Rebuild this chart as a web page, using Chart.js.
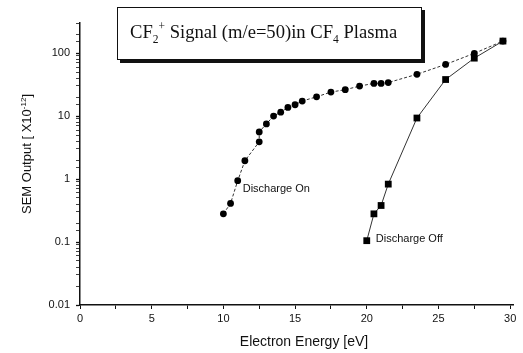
<!DOCTYPE html>
<html>
<head>
<meta charset="utf-8">
<script src="https://cdn.jsdelivr.net/npm/chart.js@4"></script>
<style>
    html, body { margin: 0; padding: 0; background: #fff; }
    #plot { display: block; }
</style>
</head>
<body>
<canvas id="plot" width="523" height="353"></canvas>
<script>
// --- Data: electron energy [eV] vs SEM output [x10^-12] ---
const onEnergy  = [10, 10.5, 11, 11.5, 12.5, 12.5, 13, 13.5, 14, 14.5, 15, 15.5, 16.5, 17.5, 18.5, 19.5, 20.5, 21, 21.5, 23.5, 25.5, 27.5, 29.5];
const onSignal  = [0.28, 0.41, 0.94, 1.95, 3.9, 5.6, 7.5, 10, 11.5, 13.7, 15.1, 17.3, 20.2, 24, 26.2, 29.9, 33, 33, 34, 46, 66, 99, 155];
const offEnergy = [20, 20.5, 21, 21.5, 23.5, 25.5, 27.5, 29.5];
const offSignal = [0.105, 0.28, 0.38, 0.83, 9.3, 38, 83, 155];

const xTickValues = [0, 2.5, 5, 7.5, 10, 12.5, 15, 17.5, 20, 22.5, 25, 27.5, 30];
const xTickLabels = ['0', '', '5', '', '10', '', '15', '', '20', '', '25', '', '30'];
const yTickValues = [0.01, 0.1, 1, 10, 100];
const yTickLabels = ['0.01', '0.1', '1', '10', '100'];

const seriesNames = ['Discharge On', 'Discharge Off'];

const INK = '#111';
const SANS = '"Liberation Sans", Arial, sans-serif';
const SERIF = '"Liberation Serif", "Times New Roman", serif';

function toPoints(xs, ys) {
    return xs.map((x, i) => ({ x: x, y: ys[i] }));
}

function majorIndex(v) {
    return yTickValues.findIndex(t => Math.abs(v - t) / t < 1e-6);
}

// draws a run of text pieces; each piece may be normal, sub or sup
function drawRich(ctx, pieces, x, y, size, family) {
    let cx = x;
    pieces.forEach(p => {
        const s = p.kind ? size * 0.62 : size;
        const dy = p.kind === 'sub' ? size * 0.28 : (p.kind === 'sup' ? -size * 0.42 : 0);
        ctx.font = `${s}px ${family}`;
        ctx.fillText(p.text, cx, y + dy);
        cx += ctx.measureText(p.text).width;
    });
    return cx - x;
}

const decorations = {
    id: 'decorations',
    afterDatasetsDraw(chart) {
        const ctx = chart.ctx;
        const xs = chart.scales.x;
        const ys = chart.scales.y;
        ctx.save();
        ctx.fillStyle = INK;
        ctx.textBaseline = 'middle';
        ctx.textAlign = 'left';

        // series labels beside the lowest points
        ctx.font = `11px ${SANS}`;
        ctx.fillText(seriesNames[0], xs.getPixelForValue(onEnergy[2]) + 5, ys.getPixelForValue(onSignal[2]) + 8.5);
        ctx.fillText(seriesNames[1], xs.getPixelForValue(offEnergy[0]) + 9, ys.getPixelForValue(offSignal[0]) - 1.5);

        // boxed title with drop shadow
        ctx.strokeStyle = INK;
        ctx.lineWidth = 1;
        ctx.strokeRect(117.5, 7.5, 304, 52);
        ctx.fillRect(422, 10, 3, 53);
        ctx.fillRect(120, 60, 305, 3);
        ctx.textBaseline = 'alphabetic';
        drawRich(ctx, [
            { text: 'CF' }, { text: '2', kind: 'sub' }, { text: '+', kind: 'sup' },
            { text: ' Signal (m/e=50)in CF' }, { text: '4', kind: 'sub' }, { text: ' Plasma' }
        ], 130, 38, 18.6, SERIF);

        // axis titles
        ctx.font = `14px ${SANS}`;
        ctx.textAlign = 'center';
        ctx.fillText('Electron Energy [eV]', 304, 346);

        ctx.translate(31, 154);
        ctx.rotate(-Math.PI / 2);
        ctx.textAlign = 'left';
        const yTitle = [{ text: 'SEM Output [ X10' }, { text: '-12', kind: 'sup' }, { text: ']' }];
        ctx.globalAlpha = 0;
        const w = drawRich(ctx, yTitle, 0, 0, 13, SANS);
        ctx.globalAlpha = 1;
        drawRich(ctx, yTitle, -w / 2, 0, 13, SANS);
        ctx.restore();
    }
};

new Chart(document.getElementById('plot'), {
    type: 'scatter',
    data: {
        datasets: [{
            label: seriesNames[0],
            data: toPoints(onEnergy, onSignal),
            showLine: true,
            borderColor: '#333',
            borderWidth: 1,
            borderDash: [3, 2],
            pointStyle: 'circle',
            pointRadius: 3.4,
            pointBackgroundColor: '#000',
            pointBorderWidth: 0
        }, {
            label: seriesNames[1],
            data: toPoints(offEnergy, offSignal),
            showLine: true,
            borderColor: '#333',
            borderWidth: 1,
            pointStyle: 'rect',
            pointRadius: 4.8,
            pointBackgroundColor: '#000',
            pointBorderWidth: 0
        }]
    },
    options: {
        responsive: false,
        animation: false,
        devicePixelRatio: 1,
        layout: { padding: { left: 0, right: 10, top: 23, bottom: 0 } },
        plugins: {
            legend: { display: false },
            tooltip: { enabled: false }
        },
        scales: {
            x: {
                type: 'linear',
                min: 0,
                max: 30.2,
                afterBuildTicks: (scale) => { scale.ticks = xTickValues.map(v => ({ value: v })); },
                afterFit: (scale) => { scale.height = 48; },
                ticks: {
                    autoSkip: false,
                    maxRotation: 0,
                    padding: 3,
                    color: INK,
                    font: { family: SANS, size: 11 },
                    callback: (v) => xTickLabels[xTickValues.indexOf(v)]
                },
                grid: { drawOnChartArea: false, tickLength: 4, tickColor: INK, tickWidth: 1 },
                border: { display: true, color: INK, width: 1.5 }
            },
            y: {
                type: 'logarithmic',
                min: 0.01,
                max: 300,
                afterFit: (scale) => { scale.width = 80; },
                ticks: {
                    autoSkip: false,
                    padding: 6,
                    color: INK,
                    font: { family: SANS, size: 11 },
                    callback: (v) => {
                        const i = majorIndex(v);
                        return i >= 0 ? yTickLabels[i] : '';
                    }
                },
                grid: {
                    drawOnChartArea: false,
                    tickLength: 4,
                    tickColor: INK,
                    tickWidth: (c) => (c.tick && majorIndex(c.tick.value) >= 0 ? 1.3 : 0.8)
                },
                border: { display: true, color: INK, width: 1.5 }
            }
        }
    },
    plugins: [decorations]
});
</script>
</body>
</html>
